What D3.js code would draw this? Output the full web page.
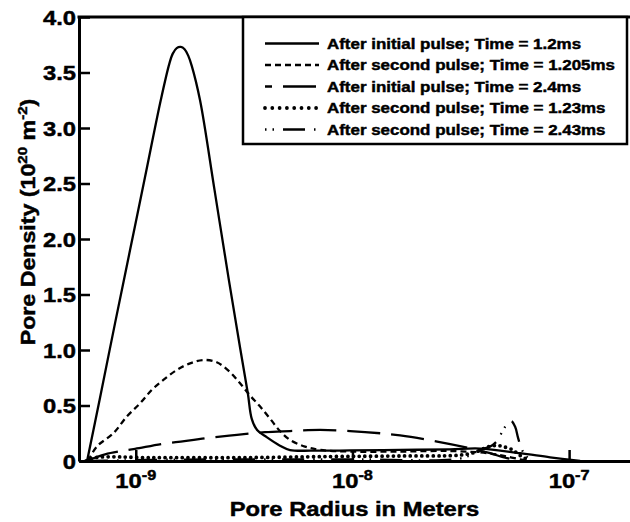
<!DOCTYPE html>
<html>
<head>
<meta charset="utf-8">
<script src="https://cdn.jsdelivr.net/npm/d3@7"></script>
<style>
  body { margin: 0; background: #fff; }
  svg { display: block; font-family: "Liberation Sans", Arial, Helvetica, sans-serif; font-weight: bold; }
</style>
</head>
<body>
<div id="plot"></div>
<script>
// pore radius (m) and pore density (1e20 m^-2)

// After initial pulse; Time = 1.2ms
const radiusA = [5.96e-10, 6.84e-10, 8.02e-10, 9.41e-10, 1.104e-9, 1.304e-9, 1.429e-9, 1.482e-9, 1.545e-9, 1.613e-9, 1.68e-9, 1.748e-9, 1.813e-9, 1.98e-9, 2.31e-9, 2.69e-9, 3.03e-9, 3.29e-9, 3.43e-9, 3.63e-9, 4.02e-9, 4.63e-9, 5.15e-9, 6.5e-9, 9.76e-9, 1.66e-8, 2.82e-8, 3.88e-8, 5.94e-8, 8.17e-8, 1.124e-7];
const densityA = [0, 0.57, 1.24, 1.90, 2.56, 3.25, 3.58, 3.67, 3.72, 3.73, 3.71, 3.65, 3.56, 3.25, 2.44, 1.63, 1.02, 0.61, 0.38, 0.28, 0.215, 0.138, 0.099, 0.093, 0.095, 0.10, 0.105, 0.112, 0.07, 0.033, 0];

// After second pulse; Time = 1.205ms
const radiusB = [6.02e-10, 6.61e-10, 7.88e-10, 9.09e-10, 1.047e-9, 1.185e-9, 1.341e-9, 1.546e-9, 1.781e-9, 2.051e-9, 2.364e-9, 2.724e-9, 3.03e-9, 3.37e-9, 3.75e-9, 4.17e-9, 4.63e-9, 5.15e-9, 6.04e-9, 7.09e-9, 9.76e-9, 1.66e-8, 2.82e-8, 4.23e-8, 5.07e-8, 6.13e-8, 6.61e-8];
const densityB = [0, 0.13, 0.25, 0.40, 0.52, 0.64, 0.73, 0.82, 0.88, 0.91, 0.89, 0.80, 0.70, 0.59, 0.49, 0.38, 0.27, 0.19, 0.13, 0.10, 0.085, 0.085, 0.09, 0.07, 0.043, 0.01, 0];

// After initial pulse; Time = 2.4ms
const radiusC = [5.9e-10, 7.22e-10, 8.62e-10, 9.93e-10, 1.39e-9, 1.78e-9, 2.2e-9, 2.93e-9, 3.95e-9, 5.15e-9, 7.09e-9, 9.76e-9, 1.342e-8, 1.66e-8, 2.46e-8, 3.49e-8, 4.32e-8, 5.17e-8, 6.13e-8];
const densityC = [0, 0.06, 0.09, 0.11, 0.16, 0.185, 0.21, 0.235, 0.26, 0.27, 0.28, 0.27, 0.25, 0.23, 0.175, 0.115, 0.07, 0.025, 0];

// After second pulse; Time = 1.23ms
const radiusD = [5.9e-10, 6.49e-10, 1.2e-9, 3.0e-9, 7.88e-9, 1.66e-8, 2.97e-8, 3.42e-8, 3.76e-8, 4.18e-8, 4.65e-8, 5.06e-8, 5.51e-8, 5.81e-8, 6.26e-8, 6.61e-8];
const densityD = [0, 0.03, 0.03, 0.03, 0.04, 0.045, 0.05, 0.063, 0.084, 0.125, 0.14, 0.125, 0.099, 0.063, 0.024, 0];

// After second pulse; Time = 2.43ms
const radiusE = [5.9e-10, 1.5e-9, 1.0e-8, 2.97e-8, 3.49e-8, 3.88e-8, 4.32e-8, 4.65e-8, 4.9e-8, 5.12e-8, 5.4e-8, 5.63e-8, 5.81e-8, 6.0e-8, 6.19e-8, 6.61e-8, 6.97e-8];
const densityE = [0, 0.012, 0.015, 0.015, 0.05, 0.10, 0.13, 0.18, 0.26, 0.32, 0.36, 0.31, 0.21, 0.12, 0.07, 0.01, 0];

const seriesNames = [
  "After initial pulse; Time = 1.2ms",
  "After second pulse; Time = 1.205ms",
  "After initial pulse; Time = 2.4ms",
  "After second pulse; Time = 1.23ms",
  "After second pulse; Time = 2.43ms"
];

const yTicks = [0, 0.5, 1.0, 1.5, 2.0, 2.5, 3.0, 3.5, 4.0];
const yTickLabels = ["0", "0.5", "1.0", "1.5", "2.0", "2.5", "3.0", "3.5", "4.0"];
const xTicks = [1e-9, 1e-8, 1e-7];
const xTickExps = ["-9", "-8", "-7"];

const series = [
  { name: seriesNames[0], r: radiusA, d: densityA, dash: null, legendDash: null },
  { name: seriesNames[1], r: radiusB, d: densityB, dash: "6,4", legendDash: "6,4" },
  { name: seriesNames[2], r: radiusC, d: densityC, dash: "33,11", legendDash: "33,11", legendOffset: 26 },
  { name: seriesNames[3], r: radiusD, d: densityD, dash: "0,5.7", legendDash: "0,7.3", round: true },
  { name: seriesNames[4], r: radiusE, d: densityE, dash: "22,9,1.5,6,1.5,9", legendDash: "22,9,1.5,6,1.5,9", legendOffset: 31 }
];

// svg dimensions and margins
const svgWidth = 630;
const svgHeight = 522;
const margin = {top: 17, right: 0, bottom: 61, left: 79};

const svg = d3.select("#plot")
  .append("svg")
  .attr("width", svgWidth)
  .attr("height", svgHeight);

const x = d3.scaleLog()
  .domain([5.47e-10, 1.91e-7])
  .range([margin.left, svgWidth - margin.right]);

const y = d3.scaleLinear()
  .domain([0, 4])
  .range([svgHeight - margin.bottom, margin.top]);

// lettering in the original is wider and heavier than Arial
const sx = 1.16;
function label(x0, y0, size, anchor, rot) {
  return svg.append("g")
    .attr("transform", "translate(" + x0 + "," + y0 + ") rotate(" + (rot || 0) + ") scale(" + sx + ",1)")
    .append("text")
    .attr("font-size", size)
    .attr("text-anchor", anchor)
    .attr("fill", "#000")
    .attr("stroke", "#000")
    .attr("stroke-width", 0.45);
}

// curves
const line = d3.line()
  .x(function(p) { return x(p[0]); })
  .y(function(p) { return y(p[1]); })
  .curve(d3.curveCatmullRom.alpha(0.5));

series.forEach(function(s) {
  svg.append("path")
    .datum(d3.zip(s.r, s.d))
    .attr("d", line)
    .attr("fill", "none")
    .attr("stroke", "#000")
    .attr("stroke-width", s.round ? 3.8 : 2.3)
    .attr("stroke-linecap", s.round ? "round" : "butt")
    .attr("stroke-dasharray", s.dash);
});

// axes
const yAxis = svg.append("g")
  .attr("transform", "translate(" + margin.left + ",0)")
  .call(d3.axisLeft(y).tickValues(yTicks).tickSize(-11).tickSizeOuter(0).tickFormat(""));

const xAxis = svg.append("g")
  .attr("transform", "translate(0," + (svgHeight - margin.bottom) + ")")
  .call(d3.axisBottom(x).tickValues(xTicks).tickSize(-11).tickSizeOuter(0).tickFormat(""));

[yAxis, xAxis].forEach(function(g) {
  g.select(".domain").attr("stroke", "#000").attr("stroke-width", 3);
  g.selectAll(".tick line").attr("stroke", "#000").attr("stroke-width", 2.5);
});

// top frame
svg.append("line")
  .attr("x1", margin.left - 1.5).attr("x2", svgWidth)
  .attr("y1", margin.top).attr("y2", margin.top)
  .attr("stroke", "#000").attr("stroke-width", 3);

// tick labels
yTicks.forEach(function(t, i) {
  label(76, y(t) + 7.5, 20.5, "end").text(yTickLabels[i]);
});

xTicks.forEach(function(t, i) {
  const tx = label(x(t), 488, 20.5, "middle");
  tx.append("tspan").text("10");
  tx.append("tspan").attr("font-size", 14).attr("dy", -8).text(xTickExps[i]);
});

// axis titles
label((margin.left + svgWidth) / 2, 516, 20.5, "middle").text("Pore Radius in Meters");

const yt = label(35, 222, 20, "middle", -90);
yt.append("tspan").text("Pore Density (10");
yt.append("tspan").attr("font-size", 13).attr("dy", -8).text("20");
yt.append("tspan").attr("dy", 8).text(" m");
yt.append("tspan").attr("font-size", 13).attr("dy", -8).text("-2");
yt.append("tspan").attr("dy", 8).text(")");

// legend
const legend = {x: 243, y: 17, w: 384, h: 127};
svg.append("rect")
  .attr("x", legend.x).attr("y", legend.y)
  .attr("width", legend.w).attr("height", legend.h)
  .attr("fill", "#fff").attr("stroke", "#000").attr("stroke-width", 2.5);

series.forEach(function(s, i) {
  const cy = 43.5 + i * 21.5;
  svg.append("line")
    .attr("x1", 265).attr("x2", 319)
    .attr("y1", cy).attr("y2", cy)
    .attr("stroke", "#000")
    .attr("stroke-width", s.round ? 3.8 : 2.4)
    .attr("stroke-linecap", s.round ? "round" : "butt")
    .attr("stroke-dasharray", s.legendDash)
    .attr("stroke-dashoffset", s.legendOffset || 0);
  label(327, cy + 5.4, 14.6, "start").text(s.name);
});
</script>
</body>
</html>
